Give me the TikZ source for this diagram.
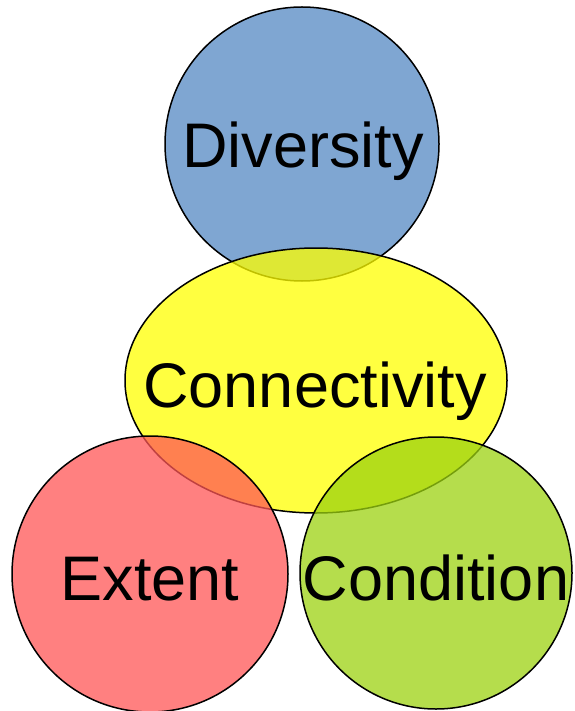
\documentclass[tikz,border=0pt]{standalone}
\usepackage{fontspec}
\setmainfont{Liberation Sans}
\usetikzlibrary{shapes.geometric}

\definecolor{divblue}{RGB}{127,166,210}
\definecolor{conyellow}{RGB}{255,255,0}
\definecolor{extred}{RGB}{255,86,86}
\definecolor{congreen}{RGB}{156,210,16}

\begin{document}
\begin{tikzpicture}[x=1pt, y=-1pt]
\useasboundingbox (0,0) rectangle (574,711);

\coordinate (C_div) at (302, 144);
\coordinate (C_con) at (316, 380.5);
\coordinate (C_ext) at (150, 574);
\coordinate (C_cnd) at (436, 573);


\tikzset{SetStyle/.style = {
 draw = black,
 line width = 1.5pt,
 inner sep = 0pt,
 outer sep = 0pt} }

\node[SetStyle, circle, fill=divblue, minimum size=274pt] (Diversity) at (C_div) {};
\node[SetStyle, ellipse, fill=conyellow, fill opacity=0.75,
 minimum width=382pt, minimum height=265pt] (Connectivity) at (C_con) {};
\node[SetStyle, circle, fill=extred, fill opacity=0.75, minimum size=276pt] (Extent) at (C_ext) {};
\node[SetStyle, circle, fill=congreen, fill opacity=0.75, minimum size=272pt] (Condition) at (C_cnd) {};


\tikzset{LabelStyle/.style = {
 anchor = base,
 text = black,
 inner sep = 0pt,
 font = \fontsize{63}{63}\selectfont} }

\node[LabelStyle] (T_div) at (303, 168) {Diversity};
\node[LabelStyle] (T_con) at (315, 407) {Connectivity};
\node[LabelStyle] (T_ext) at (150, 600) {Extent};
\node[LabelStyle] (T_cnd) at (436, 600) {Condition};

\end{tikzpicture}
\end{document}
